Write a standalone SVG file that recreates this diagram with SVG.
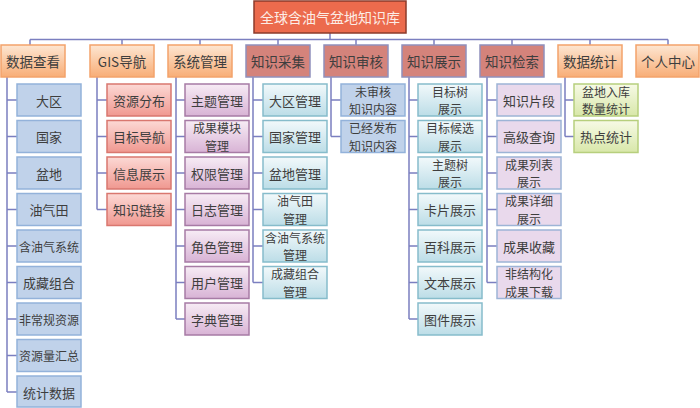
<svg xmlns="http://www.w3.org/2000/svg" width="700" height="408" viewBox="0 0 700 408">
<defs>
<linearGradient id="gOrange" x1="0" y1="0" x2="0" y2="1"><stop offset="0" stop-color="#FDE6D2"/><stop offset="1" stop-color="#F8AD76"/></linearGradient>
<linearGradient id="gRed" x1="0" y1="0" x2="0" y2="1"><stop offset="0" stop-color="#FCD9D5"/><stop offset="1" stop-color="#F09890"/></linearGradient>
<linearGradient id="gPurple" x1="0" y1="0" x2="0" y2="1"><stop offset="0" stop-color="#F7ECF5"/><stop offset="1" stop-color="#D8B3D5"/></linearGradient>
<linearGradient id="gTeal" x1="0" y1="0" x2="0" y2="1"><stop offset="0" stop-color="#F2F9FB"/><stop offset="1" stop-color="#BCDDE7"/></linearGradient>
<linearGradient id="gGreen" x1="0" y1="0" x2="0" y2="1"><stop offset="0" stop-color="#F7FAE6"/><stop offset="1" stop-color="#D8E7A9"/></linearGradient>
<style>
text{font-family:"Noto Sans CJK SC","Liberation Sans",sans-serif;font-size:13px;fill:#3e3e3e;text-anchor:middle;dominant-baseline:central}
text.s{font-size:12px}
.root rect{fill:#EC6B4D;stroke:#8c3b2b;stroke-width:1.5}
.root text{fill:#FCEDE6;font-size:14px}
.l1o rect{fill:url(#gOrange);stroke:#F3A36B;stroke-width:1.5}
.l1r rect{fill:#D4837B;stroke:#9090BC;stroke-width:1.5}
.l1 text{font-size:13.5px}
.cb rect{fill:#C0D2EA;stroke:#93B2DA;stroke-width:1.5}
.cr rect{fill:url(#gRed);stroke:#D9776F;stroke-width:1.5}
.cp rect{fill:url(#gPurple);stroke:#A77BA5;stroke-width:1.5}
.ct rect{fill:url(#gTeal);stroke:#86BCCB;stroke-width:1.5}
.cl rect{fill:#E9D9EC;stroke:#9DB4D6;stroke-width:1.5}
.cg rect{fill:url(#gGreen);stroke:#B7CF7D;stroke-width:1.5}
#connectors path{fill:none;stroke:#7b7fc0;stroke-width:1.5}
</style>
</defs>
<rect width="700" height="408" fill="#ffffff"/>

<g id="connectors">
<path d="M330 33V39.5M30 39.5H668M30 39.5V45M122 39.5V45M200 39.5V45M278 39.5V45M356 39.5V45M434 39.5V45M512 39.5V45M590 39.5V45M668 39.5V45"/>
<path d="M7 77V392M7 100H17M7 136.5H17M7 173H17M7 209.5H17M7 246H17M7 282.5H17M7 319H17M7 355.5H17M7 392H17"/>
<path d="M97 77V209.5M97 100H107M97 136.5H107M97 173H107M97 209.5H107"/>
<path d="M176 77V319M176 100H185M176 136.5H185M176 173H185M176 209.5H185M176 246H185M176 282.5H185M176 319H185"/>
<path d="M253 77V282.5M253 100H263M253 136.5H263M253 173H263M253 209.5H263M253 246H263M253 282.5H263"/>
<path d="M331 77V136.5M331 100H341M331 136.5H341"/>
<path d="M409 77V319M409 100H418M409 136.5H418M409 173H418M409 209.5H418M409 246H418M409 282.5H418M409 319H418"/>
<path d="M487 77V282.5M487 100H497M487 136.5H497M487 173H497M487 209.5H497M487 246H497M487 282.5H497"/>
<path d="M565 77V136.5M565 100H574M565 136.5H574"/>
</g>

<g id="root" class="root"><rect x="254" y="1" width="152" height="32"/><text x="330" y="17">全球含油气盆地知识库</text></g>

<g id="n_sjck" class="l1 l1o"><rect x="1" y="45" width="64" height="32"/><text x="33" y="61">数据查看</text></g>
<g id="n_gis" class="l1 l1o"><rect x="90" y="45" width="64" height="32"/><text x="122" y="61">GIS导航</text></g>
<g id="n_xtgl" class="l1 l1o"><rect x="168" y="45" width="64" height="32"/><text x="200" y="61">系统管理</text></g>
<g id="n_zscj" class="l1 l1r"><rect x="246" y="45" width="64" height="32"/><text x="278" y="61">知识采集</text></g>
<g id="n_zssh" class="l1 l1r"><rect x="324" y="45" width="64" height="32"/><text x="356" y="61">知识审核</text></g>
<g id="n_zszs" class="l1 l1r"><rect x="402" y="45" width="64" height="32"/><text x="434" y="61">知识展示</text></g>
<g id="n_zsjs" class="l1 l1r"><rect x="480" y="45" width="64" height="32"/><text x="512" y="61">知识检索</text></g>
<g id="n_sjtj" class="l1 l1o"><rect x="558" y="45" width="64" height="32"/><text x="590" y="61">数据统计</text></g>
<g id="n_grzx" class="l1 l1o"><rect x="636" y="45" width="63" height="32"/><text x="668" y="61">个人中心</text></g>

<!-- 数据查看 children -->
<g id="a1" class="cb"><rect x="17" y="84" width="64" height="32"/><text x="49" y="100">大区</text></g>
<g id="a2" class="cb"><rect x="17" y="120.5" width="64" height="32"/><text x="49" y="136.5">国家</text></g>
<g id="a3" class="cb"><rect x="17" y="157" width="64" height="32"/><text x="49" y="173">盆地</text></g>
<g id="a4" class="cb"><rect x="17" y="193.5" width="64" height="32"/><text x="49" y="209.5">油气田</text></g>
<g id="a5" class="cb"><rect x="17" y="230" width="64" height="32"/><text class="s" x="49" y="246">含油气系统</text></g>
<g id="a6" class="cb"><rect x="17" y="266.5" width="64" height="32"/><text x="49" y="282.5">成藏组合</text></g>
<g id="a7" class="cb"><rect x="17" y="303" width="64" height="32"/><text class="s" x="49" y="319">非常规资源</text></g>
<g id="a8" class="cb"><rect x="17" y="339.5" width="64" height="32"/><text class="s" x="49" y="355.5">资源量汇总</text></g>
<g id="a9" class="cb"><rect x="17" y="376" width="64" height="31"/><text x="49" y="392">统计数据</text></g>

<!-- GIS导航 children -->
<g id="b1" class="cr"><rect x="107" y="84" width="64" height="32"/><text x="139" y="100">资源分布</text></g>
<g id="b2" class="cr"><rect x="107" y="120.5" width="64" height="32"/><text x="139" y="136.5">目标导航</text></g>
<g id="b3" class="cr"><rect x="107" y="157" width="64" height="32"/><text x="139" y="173">信息展示</text></g>
<g id="b4" class="cr"><rect x="107" y="193.5" width="64" height="32"/><text x="139" y="209.5">知识链接</text></g>

<!-- 系统管理 children -->
<g id="c1" class="cp"><rect x="185" y="84" width="64" height="32"/><text x="217" y="100">主题管理</text></g>
<g id="c2" class="cp"><rect x="185" y="120.5" width="64" height="32"/><text class="s" x="217" y="127.75">成果模块</text><text class="s" x="217" y="145.25">管理</text></g>
<g id="c3" class="cp"><rect x="185" y="157" width="64" height="32"/><text x="217" y="173">权限管理</text></g>
<g id="c4" class="cp"><rect x="185" y="193.5" width="64" height="32"/><text x="217" y="209.5">日志管理</text></g>
<g id="c5" class="cp"><rect x="185" y="230" width="64" height="32"/><text x="217" y="246">角色管理</text></g>
<g id="c6" class="cp"><rect x="185" y="266.5" width="64" height="32"/><text x="217" y="282.5">用户管理</text></g>
<g id="c7" class="cp"><rect x="185" y="303" width="64" height="32"/><text x="217" y="319">字典管理</text></g>

<!-- 知识采集 children -->
<g id="d1" class="ct"><rect x="263" y="84" width="64" height="32"/><text x="295" y="100">大区管理</text></g>
<g id="d2" class="ct"><rect x="263" y="120.5" width="64" height="32"/><text x="295" y="136.5">国家管理</text></g>
<g id="d3" class="ct"><rect x="263" y="157" width="64" height="32"/><text x="295" y="173">盆地管理</text></g>
<g id="d4" class="ct"><rect x="263" y="193.5" width="64" height="32"/><text class="s" x="295" y="200.75">油气田</text><text class="s" x="295" y="218.25">管理</text></g>
<g id="d5" class="ct"><rect x="263" y="230" width="64" height="32"/><text class="s" x="295" y="237.25">含油气系统</text><text class="s" x="295" y="254.75">管理</text></g>
<g id="d6" class="ct"><rect x="263" y="266.5" width="64" height="32"/><text class="s" x="295" y="273.75">成藏组合</text><text class="s" x="295" y="291.25">管理</text></g>

<!-- 知识审核 children -->
<g id="e1" class="cb"><rect x="341" y="84" width="64" height="32"/><text class="s" x="373" y="91.25">未审核</text><text class="s" x="373" y="108.75">知识内容</text></g>
<g id="e2" class="cb"><rect x="341" y="120.5" width="64" height="32"/><text class="s" x="373" y="127.75">已经发布</text><text class="s" x="373" y="145.25">知识内容</text></g>

<!-- 知识展示 children -->
<g id="f1" class="ct"><rect x="418" y="84" width="64" height="32"/><text class="s" x="450" y="91.25">目标树</text><text class="s" x="450" y="108.75">展示</text></g>
<g id="f2" class="ct"><rect x="418" y="120.5" width="64" height="32"/><text class="s" x="450" y="127.75">目标候选</text><text class="s" x="450" y="145.25">展示</text></g>
<g id="f3" class="ct"><rect x="418" y="157" width="64" height="32"/><text class="s" x="450" y="164.25">主题树</text><text class="s" x="450" y="181.75">展示</text></g>
<g id="f4" class="ct"><rect x="418" y="193.5" width="64" height="32"/><text x="450" y="209.5">卡片展示</text></g>
<g id="f5" class="ct"><rect x="418" y="230" width="64" height="32"/><text x="450" y="246">百科展示</text></g>
<g id="f6" class="ct"><rect x="418" y="266.5" width="64" height="32"/><text x="450" y="282.5">文本展示</text></g>
<g id="f7" class="ct"><rect x="418" y="303" width="64" height="32"/><text x="450" y="319">图件展示</text></g>

<!-- 知识检索 children -->
<g id="g1" class="cl"><rect x="497" y="84" width="64" height="32"/><text x="529" y="100">知识片段</text></g>
<g id="g2" class="cl"><rect x="497" y="120.5" width="64" height="32"/><text x="529" y="136.5">高级查询</text></g>
<g id="g3" class="cl"><rect x="497" y="157" width="64" height="32"/><text class="s" x="529" y="164.25">成果列表</text><text class="s" x="529" y="181.75">展示</text></g>
<g id="g4" class="cl"><rect x="497" y="193.5" width="64" height="32"/><text class="s" x="529" y="200.75">成果详细</text><text class="s" x="529" y="218.25">展示</text></g>
<g id="g5" class="cl"><rect x="497" y="230" width="64" height="32"/><text x="529" y="246">成果收藏</text></g>
<g id="g6" class="cl"><rect x="497" y="266.5" width="64" height="32"/><text class="s" x="529" y="273.75">非结构化</text><text class="s" x="529" y="291.25">成果下载</text></g>

<!-- 数据统计 children -->
<g id="h1" class="cg"><rect x="574" y="84" width="64" height="32"/><text class="s" x="606" y="91.25">盆地入库</text><text class="s" x="606" y="108.75">数量统计</text></g>
<g id="h2" class="cg"><rect x="574" y="120.5" width="64" height="32"/><text x="606" y="136.5">热点统计</text></g>
</svg>
